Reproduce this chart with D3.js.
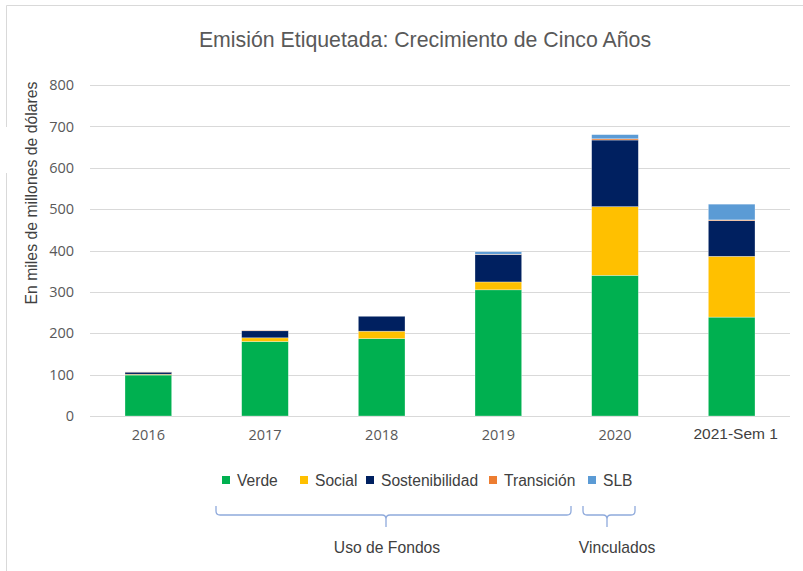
<!DOCTYPE html>
<html>
<head>
<meta charset="utf-8">
<script src="https://cdn.jsdelivr.net/npm/d3@7"></script>
<style>
  body { margin: 0; background: #fff; }
  svg { display: block; }
</style>
</head>
<body>
<div id="chart"></div>
<script>
var categories = ["2016", "2017", "2018", "2019", "2020", "2021-Sem 1"];
var seriesNames = ["Verde", "Social", "Sostenibilidad", "Transición", "SLB"];
var verde = [99, 180, 187, 305, 340, 239];
var social = [2, 9, 18, 19, 166, 147];
var sostenibilidad = [5, 17, 36, 66, 161, 86];
var transicion = [0.5, 1, 0, 1, 3, 2];
var slb = [0, 0, 0, 6, 10, 38];
var colors = ["#00b050", "#ffc000", "#002060", "#ed7d31", "#5b9bd5"];
var yTicks = [0, 100, 200, 300, 400, 500, 600, 700, 800];

var width = 803, height = 571;
var margin = { left: 90, right: 13, top: 85, bottom: 155 };
var arial = "'Liberation Sans', Arial, sans-serif";

var svg = d3.select("#chart").append("svg")
    .attr("width", width)
    .attr("height", height);

// frame lines
svg.append("line").attr("x1", 6.5).attr("x2", width).attr("y1", 5.5).attr("y2", 5.5)
    .attr("stroke", "#d9d9d9");
svg.append("line").attr("x1", 6.5).attr("x2", 6.5).attr("y1", 5.5).attr("y2", 127)
    .attr("stroke", "#d9d9d9");
svg.append("line").attr("x1", 6.5).attr("x2", 6.5).attr("y1", 173).attr("y2", height)
    .attr("stroke", "#d9d9d9");

var data = categories.map(function (c, i) {
    return { cat: c, Verde: verde[i], Social: social[i], Sostenibilidad: sostenibilidad[i],
             "Transición": transicion[i], SLB: slb[i] };
});

var x = d3.scaleBand().domain(categories)
    .range([margin.left, width - margin.right]).paddingInner(0.6).paddingOuter(0.3);
var y = d3.scaleLinear().domain([0, 800]).range([height - margin.bottom, margin.top]);

// gridlines
svg.append("g").selectAll("line").data(yTicks).enter().append("line")
    .attr("x1", margin.left).attr("x2", width - margin.right)
    .attr("y1", d => Math.round(y(d)) + 0.5).attr("y2", d => Math.round(y(d)) + 0.5)
    .attr("stroke", "#d9d9d9").attr("stroke-width", 1);

var yAxis = svg.append("g")
    .attr("transform", "translate(" + margin.left + ",0)")
    .call(d3.axisLeft(y).tickValues(yTicks).tickSize(0).tickPadding(16));
yAxis.select(".domain").remove();
yAxis.selectAll("text").attr("fill", "#595959")
    .style("font-family", "'Open Sans', sans-serif").style("font-size", "14.5px");

var xAxis = svg.append("g")
    .attr("transform", "translate(0," + (height - margin.bottom) + ")")
    .call(d3.axisBottom(x).tickSize(0).tickPadding(14));
xAxis.select(".domain").remove();
xAxis.selectAll("text")
    .style("font-family", d => d === "2021-Sem 1" ? arial : "'Open Sans', sans-serif")
    .style("font-size", d => d === "2021-Sem 1" ? "15.5px" : "14.5px")
    .attr("fill", d => d === "2021-Sem 1" ? "#404040" : "#595959")
    .attr("x", d => d === "2021-Sem 1" ? 4 : 0)
    .attr("dy", d => d === "2021-Sem 1" ? "0.6em" : "0.71em");

var stack = d3.stack().keys(seriesNames)(data);

svg.append("g").selectAll("g").data(stack).enter().append("g")
    .attr("fill", (d, i) => colors[i])
    .selectAll("rect").data(d => d).enter().append("rect")
    .attr("x", d => x(d.data.cat))
    .attr("width", x.bandwidth())
    .attr("y", d => y(d[1]))
    .attr("height", d => y(d[0]) - y(d[1]))
    .attr("stroke", "#ffffff").attr("stroke-opacity", 0.5).attr("stroke-width", 0.6);

// title
svg.append("text").attr("x", 425).attr("y", 47).attr("text-anchor", "middle")
    .attr("fill", "#595959").style("font-family", arial)
    .style("font-size", "21.3px").text("Emisión Etiquetada: Crecimiento de Cinco Años");

// y label
svg.append("text").attr("transform", "translate(37,193) rotate(-90)")
    .attr("text-anchor", "middle").attr("fill", "#404040")
    .style("font-family", arial).style("font-size", "15.8px")
    .text("En miles de millones de dólares");

// legend
var legendX = [222, 300, 366, 489, 588];
var legend = svg.append("g").selectAll("g").data(seriesNames).enter().append("g")
    .attr("transform", (d, i) => "translate(" + legendX[i] + ",480)");
legend.append("rect").attr("x", 0).attr("y", -4).attr("width", 8).attr("height", 8)
    .attr("fill", (d, i) => colors[i]);
legend.append("text").attr("x", 15).attr("y", 5.5).attr("fill", "#404040")
    .style("font-family", arial).style("font-size", "15.6px")
    .text(d => d);

// braces
function brace(x1, x2, xm) {
    var yT = 506, yB = 515, r = 4;
    return "M" + x1 + "," + yT + " L" + x1 + "," + (yB - r) +
        " Q" + x1 + "," + yB + " " + (x1 + r) + "," + yB +
        " L" + (xm - r) + "," + yB + " Q" + xm + "," + yB + " " + xm + "," + (yB + r) +
        " L" + xm + "," + 527 + " M" + xm + "," + (yB + r) + " Q" + xm + "," + yB + " " + (xm + r) + "," + yB +
        " L" + (x2 - r) + "," + yB + " Q" + x2 + "," + yB + " " + x2 + "," + (yB - r) +
        " L" + x2 + "," + yT;
}
svg.append("path").attr("d", brace(216, 571, 386)).attr("fill", "none")
    .attr("stroke", "#8faadc").attr("stroke-width", 1.3);
svg.append("path").attr("d", brace(583, 635, 607)).attr("fill", "none")
    .attr("stroke", "#8faadc").attr("stroke-width", 1.3);

svg.append("text").attr("x", 387).attr("y", 553).attr("text-anchor", "middle")
    .attr("fill", "#404040").style("font-family", arial)
    .style("font-size", "15.7px").text("Uso de Fondos");
svg.append("text").attr("x", 617).attr("y", 553).attr("text-anchor", "middle")
    .attr("fill", "#404040").style("font-family", arial)
    .style("font-size", "15.7px").text("Vinculados");
</script>
</body>
</html>
